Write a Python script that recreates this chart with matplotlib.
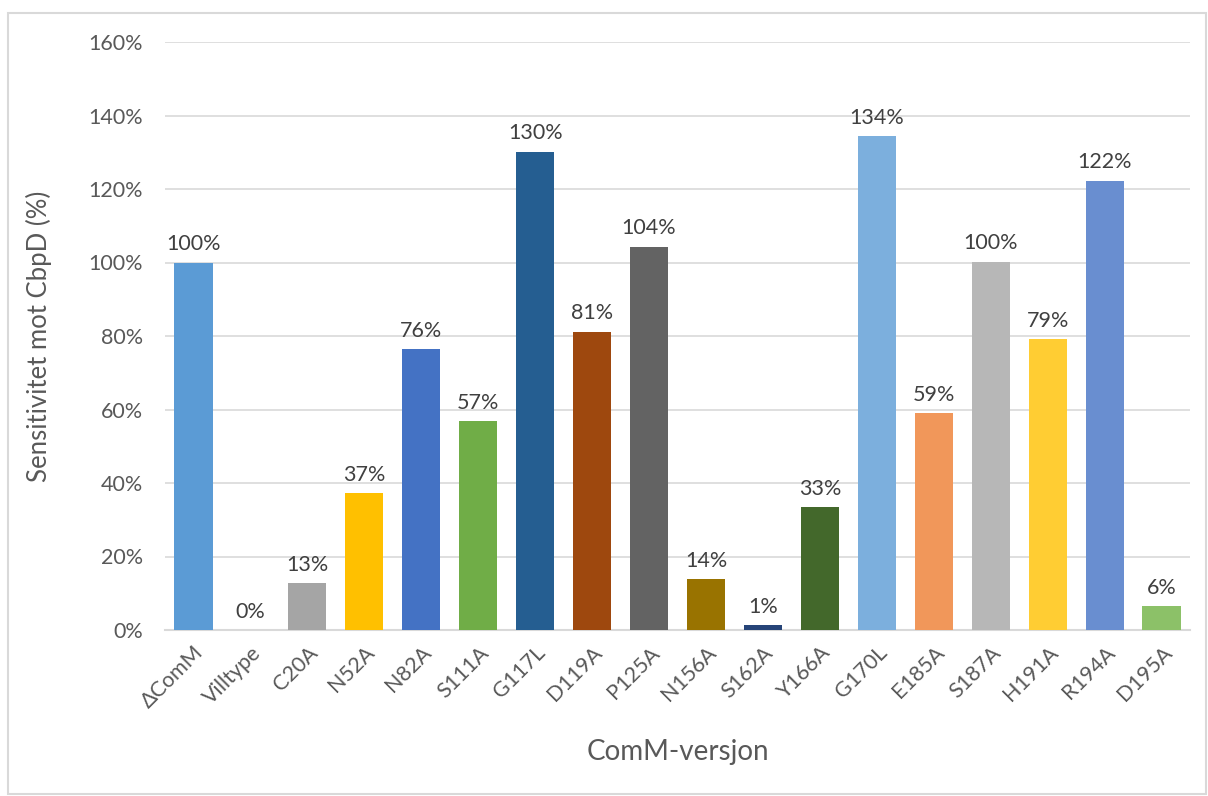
import matplotlib
matplotlib.use("Agg")
import matplotlib.pyplot as plt
from matplotlib.patches import Rectangle
from matplotlib.ticker import PercentFormatter

# sensitivity to CbpD per ComM variant (% of ΔComM)
variants = ["ΔComM", "Villtype", "C20A", "N52A", "N82A", "S111A", "G117L", "D119A",
            "P125A", "N156A", "S162A", "Y166A", "G170L", "E185A", "S187A", "H191A",
            "R194A", "D195A"]
sensitivity = [100.0, 0.0, 12.8, 37.2, 76.5, 56.8, 130.2, 81.2, 104.3, 13.8, 1.3,
               33.4, 134.4, 59.0, 100.2, 79.2, 122.3, 6.4]
bar_colors = ["#5B9BD5", "#ED7D31", "#A5A5A5", "#FFC000", "#4472C4", "#70AD47",
              "#255E91", "#9E480E", "#636363", "#997300", "#264478", "#43682B",
              "#7CAFDD", "#F1975A", "#B7B7B7", "#FFCD33", "#698ED0", "#8CC168"]

TEXT = "#595959"
GRID = "#D9D9D9"
plt.rcParams["font.family"] = ["Lato", "DejaVu Sans"]

fig = plt.figure(figsize=(12.08, 7.96), dpi=100)
ax = fig.add_axes([165 / 1208, 1 - 630 / 796, 1025 / 1208, 588 / 796])

x = range(len(variants))
ax.bar(x, sensitivity, width=0.67, color=bar_colors, zorder=3)
for xi, v in zip(x, sensitivity):
    ax.annotate(f"{v:.0f}%", (xi, v), xytext=(0, 6), textcoords="offset points",
                ha="center", va="bottom", fontsize=15.5, color="#404040")

ax.set_xlim(-0.5, len(variants) - 0.5)
ax.set_ylim(0, 160)
ax.set_yticks(range(0, 161, 20))
ax.yaxis.set_major_formatter(PercentFormatter(decimals=0))
ax.grid(axis="y", color=GRID, lw=1.2, zorder=0)
for side in ("top", "right", "left"):
    ax.spines[side].set_visible(False)
ax.spines["bottom"].set_color(GRID)
ax.spines["bottom"].set_linewidth(1.5)
ax.tick_params(length=0, labelsize=15.5, colors=TEXT)
ax.tick_params(axis="y", pad=16)
ax.set_xticks(list(x))
ax.set_xticklabels(variants, rotation=45, ha="right", rotation_mode="anchor")
ax.tick_params(axis="x", pad=9)

ax.set_ylabel("Sensitivitet mot CbpD (%)", fontsize=18.5, color=TEXT, labelpad=26)
ax.set_xlabel("ComM-versjon", fontsize=20, color=TEXT, labelpad=19)

# light frame around the whole chart
fig.patches.append(Rectangle((8 / 1208, 2 / 796), 1198 / 1208, 781 / 796,
                             transform=fig.transFigure, fill=False,
                             edgecolor=GRID, lw=1.5))

fig.savefig("out.png", dpi=100)
